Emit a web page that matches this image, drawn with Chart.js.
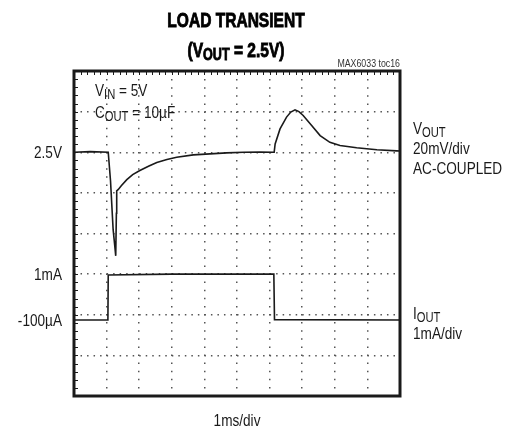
<!DOCTYPE html>
<html>
<head>
<meta charset="utf-8">
<script src="https://cdn.jsdelivr.net/npm/chart.js@4"></script>
<style>
  body { margin: 0; background: #fff; }
  canvas { display: block; }
</style>
</head>
<body>
<canvas id="scope" width="511" height="428"></canvas>
<script>
// VOUT trace, AC-coupled, mV away from 2.5V (20mV/div), time in ms
const vTime = [0, 0.5, 1.05, 1.12, 1.2, 1.25, 1.28, 1.3, 1.31, 1.36, 1.45, 1.62, 1.8, 2.02, 2.3, 2.54, 2.85, 3.15, 3.66, 4.17, 4.68, 5.2, 5.7, 6.14,
               6.17, 6.32, 6.52, 6.65, 6.78, 6.9, 7.03, 7.29, 7.55, 7.85, 8.16, 8.67, 9.29, 9.9, 10];
const vOut  = [0, 0.3, 0, -14, -38, -46, -51, -30, -19, -18.3, -16.5, -13.5, -11, -9, -6.8, -5, -3.6, -2.5, -1.3, -0.8, -0.3, 0, 0.1, 0,
               4.1, 11.5, 17.3, 19.8, 20.9, 20, 18.1, 13.2, 8.2, 4.9, 3.3, 2.2, 1.2, 0.7, 0.6];

// IOUT trace, mA (1mA/div)
const iTime = [0, 1.04, 1.05, 3, 6.13, 6.15, 10];
const iOut  = [-0.13, -0.13, 0.98, 1.0, 1.0, -0.12, -0.13];

// left-hand level labels: [text, axis, value]
const levelLabels = [["2.5V", "yV", 0], ["1mA", "yI", 1], ["-100\u00b5A", "yI", -0.13]];

const FAMILY = "'Liberation Sans', Arial, sans-serif";
const INK = "#1a1a1a";

// condensed text: draws parts = [[text, isSub], ...] squeezed horizontally
function drawParts(ctx, x, y, parts, size, opts) {
    const o = Object.assign({bold: false, align: "left", squeeze: 0.8, heavy: 0}, opts);
    const w = o.bold ? "bold " : "";
    const big = w + size + "px " + FAMILY;
    const small = w + Math.round(size * 0.8) + "px " + FAMILY;
    let total = 0;
    parts.forEach(p => { ctx.font = p[1] ? small : big; total += ctx.measureText(p[0]).width; });
    let cx = o.align === "center" ? -total / 2 : (o.align === "right" ? -total : 0);
    ctx.save();
    ctx.translate(x, y);
    ctx.scale(o.squeeze, 1);
    ctx.textAlign = "left";
    ctx.textBaseline = "alphabetic";
    ctx.strokeStyle = ctx.fillStyle;
    ctx.lineWidth = o.heavy;
    parts.forEach(p => {
        ctx.font = p[1] ? small : big;
        const dy = p[1] ? size * 0.16 : 0;
        ctx.fillText(p[0], cx, dy);
        if (o.heavy) ctx.strokeText(p[0], cx, dy);
        cx += ctx.measureText(p[0]).width;
    });
    ctx.restore();
}

const scopeDecor = {
    id: "scopeDecor",
    afterDraw(chart) {
        const ctx = chart.ctx;
        const a = chart.chartArea;
        const xs = chart.scales.x;
        const yv = chart.scales.yV;
        ctx.save();
        ctx.strokeStyle = INK;
        ctx.fillStyle = INK;

        // minor ticks along left and top borders
        ctx.lineWidth = 1;
        ctx.beginPath();
        for (let v = yv.min; v <= yv.max; v += 4) {
            const py = Math.round(yv.getPixelForValue(v)) + 0.5;
            ctx.moveTo(a.left, py); ctx.lineTo(a.left + 4, py);
        }
        for (let t = 0; t <= 10; t += 0.2) {
            const px = Math.round(xs.getPixelForValue(t)) + 0.5;
            ctx.moveTo(px, a.top); ctx.lineTo(px, a.top + 4);
        }
        ctx.stroke();

        // frame
        ctx.lineWidth = 3;
        ctx.strokeRect(a.left, a.top, a.right - a.left, a.bottom - a.top);

        // title
        ctx.fillStyle = "#000";
        drawParts(ctx, 236, 27, [["LOAD TRANSIENT", false]], 21, {bold: true, align: "center", squeeze: 0.74, heavy: 0.9});
        drawParts(ctx, 236, 57, [["(V", false], ["OUT", true], [" = 2.5V)", false]], 21, {bold: true, align: "center", squeeze: 0.74, heavy: 0.9});

        ctx.fillStyle = "#333";
        drawParts(ctx, a.right, 67, [["MAX6033 toc16", false]], 11, {align: "right"});
        ctx.fillStyle = INK;

        // conditions inside the plot
        drawParts(ctx, 95, 96, [["V", false], ["IN", true], [" = 5V", false]], 17);
        drawParts(ctx, 95, 118, [["C", false], ["OUT", true], [" = 10\u00b5F", false]], 17);

        // level labels on the left
        levelLabels.forEach(l => {
            drawParts(ctx, 62, chart.scales[l[1]].getPixelForValue(l[2]) + 6, [[l[0], false]], 17, {align: "right"});
        });

        // channel labels on the right
        drawParts(ctx, 413, 134, [["V", false], ["OUT", true]], 17);
        drawParts(ctx, 413, 154, [["20mV/div", false]], 17);
        drawParts(ctx, 413, 174, [["AC-COUPLED", false]], 17);
        drawParts(ctx, 413, 319, [["I", false], ["OUT", true]], 17);
        drawParts(ctx, 413, 339, [["1mA/div", false]], 17);

        drawParts(ctx, (a.left + a.right) / 2, 426, [["1ms/div", false]], 17, {align: "center"});
        ctx.restore();
    }
};

const canvas = document.querySelector("#scope");
new Chart(canvas, {
    type: "line",
    data: {
        datasets: [
            {
                label: "VOUT",
                data: vTime.map((t, i) => ({x: t, y: vOut[i]})),
                yAxisID: "yV",
                borderColor: INK,
                borderWidth: 1.6,
                pointRadius: 0,
                tension: 0
            },
            {
                label: "IOUT",
                data: iTime.map((t, i) => ({x: t, y: iOut[i]})),
                yAxisID: "yI",
                borderColor: INK,
                borderWidth: 1.6,
                pointRadius: 0,
                tension: 0
            }
        ]
    },
    options: {
        responsive: false,
        animation: false,
        layout: {padding: {left: 74, right: 111, top: 71, bottom: 32}},
        plugins: {legend: {display: false}, tooltip: {enabled: false}},
        scales: {
            x: {
                type: "linear", min: 0, max: 10,
                ticks: {display: false, stepSize: 1},
                grid: {color: "#555", lineWidth: 1.5, drawTicks: false},
                border: {display: false, dash: [1.5, 6.6]}
            },
            yV: {
                position: "left", min: -120, max: 40,
                ticks: {display: false, stepSize: 20},
                grid: {color: "#555", lineWidth: 1.5, drawTicks: false},
                border: {display: false, dash: [1.5, 5.02]}
            },
            yI: {display: false, min: -2, max: 6}
        }
    },
    plugins: [scopeDecor]
});
</script>
</body>
</html>
